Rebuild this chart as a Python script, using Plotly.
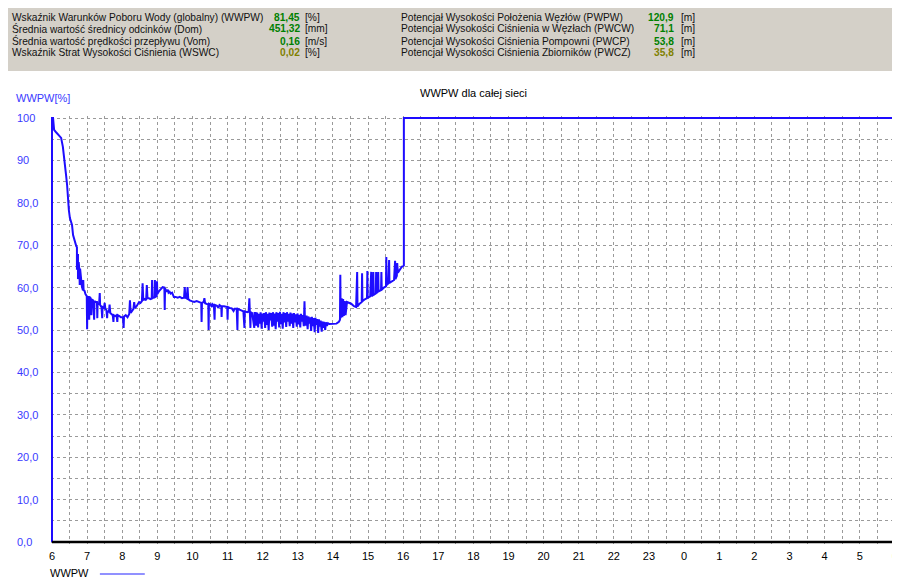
import plotly.graph_objects as go

# ---------------- data ----------------
hours = [
    6.00, 6.00, 6.03, 6.06, 6.11, 6.17, 6.26, 6.31, 6.34, 6.37, 6.40, 6.43, 6.45, 6.48, 6.51,
    6.57, 6.60, 6.65, 6.69, 6.71, 6.71, 6.72, 6.74, 6.74, 6.76, 6.78, 6.79, 6.80, 6.83, 6.85,
    6.88, 6.89, 6.90, 6.93, 6.95, 6.99, 7.00, 7.01, 7.05, 7.06, 7.07, 7.10, 7.12, 7.13, 7.17,
    7.20, 7.21, 7.25, 7.28, 7.29, 7.30, 7.34, 7.36, 7.37, 7.41, 7.43, 7.44, 7.48, 7.50, 7.52,
    7.55, 7.57, 7.58, 7.62, 7.64, 7.66, 7.70, 7.73, 7.75, 7.76, 7.80, 7.84, 7.86, 7.87, 7.92,
    7.96, 8.02, 8.04, 8.05, 8.10, 8.15, 8.20, 8.22, 8.24, 8.28, 8.32, 8.34, 8.36, 8.40, 8.44,
    8.48, 8.52, 8.56, 8.58, 8.60, 8.64, 8.68, 8.70, 8.72, 8.76, 8.80, 8.84, 8.85, 8.86, 8.92,
    8.93, 8.94, 8.98, 8.99, 9.00, 9.05, 9.10, 9.15, 9.20, 9.21, 9.22, 9.27, 9.30, 9.32, 9.35,
    9.38, 9.42, 9.47, 9.52, 9.58, 9.64, 9.70, 9.76, 9.78, 9.80, 9.84, 9.86, 9.88, 9.92, 9.98,
    10.05, 10.12, 10.20, 10.25, 10.26, 10.27, 10.32, 10.34, 10.36, 10.42, 10.45, 10.46, 10.47, 10.52, 10.55,
    10.57, 10.61, 10.63, 10.64, 10.70, 10.74, 10.77, 10.82, 10.83, 10.84, 10.90, 10.99, 11.00, 11.01, 11.06,
    11.12, 11.17, 11.20, 11.26, 11.28, 11.29, 11.34, 11.40, 11.45, 11.48, 11.49, 11.56, 11.60, 11.62, 11.63,
    11.65, 11.66, 11.70, 11.76, 11.77,
    11.80, 11.82, 11.84, 11.87, 11.89, 11.92, 11.94, 11.97, 11.99, 12.02, 12.04, 12.07, 12.09, 12.12, 12.14,
    12.17, 12.19, 12.22, 12.24, 12.27, 12.29, 12.32, 12.34, 12.37, 12.39, 12.42, 12.44, 12.47, 12.49, 12.52,
    12.54, 12.57, 12.59, 12.62, 12.64, 12.67, 12.69, 12.72, 12.74, 12.77, 12.79, 12.82, 12.84, 12.87, 12.89,
    12.92, 12.94, 12.97, 12.99, 13.02, 13.04, 13.07, 13.09, 13.12, 13.14, 13.17, 13.19, 13.20, 13.23, 13.25,
    13.28, 13.30, 13.33, 13.35, 13.38, 13.40, 13.43, 13.45, 13.48, 13.50, 13.53, 13.55, 13.58, 13.60, 13.63,
    13.65, 13.68, 13.70, 13.73, 13.75, 13.78, 13.80, 13.83, 13.86, 13.90, 14.00, 14.10,
    14.17, 14.20, 14.21, 14.22, 14.25, 14.27, 14.29, 14.31, 14.34, 14.36, 14.40, 14.45, 14.52, 14.60, 14.66,
    14.69, 14.70, 14.76, 14.82, 14.83, 14.84, 14.92, 14.97, 14.98, 14.99, 15.06, 15.09, 15.10, 15.14, 15.15,
    15.16, 15.22, 15.23, 15.24, 15.28, 15.29, 15.30, 15.37, 15.38, 15.39, 15.45, 15.51, 15.52, 15.53, 15.58,
    15.60, 15.61, 15.68, 15.74, 15.77, 15.78, 15.82, 15.83, 15.85, 15.90, 15.96, 16.02, 16.02, 30.00,
]
wwpw = [
    0.0, 100.0, 100.0, 97.2, 96.7, 96.2, 95.3, 93.2, 91.3, 89.6, 86.6, 84.2, 80.7, 78.3, 76.4,
    74.8, 72.4, 70.5, 69.8, 69.5, 64.2, 67.7, 67.7, 62.0, 66.0, 64.0, 60.6, 64.5, 61.5, 60.3,
    59.4, 61.8, 59.4, 59.2, 58.5, 58.0, 50.2, 57.8, 57.8, 52.4, 57.8, 57.5, 53.5, 57.2, 57.0,
    52.4, 56.8, 56.6, 56.6, 52.8, 56.4, 56.0, 58.7, 55.9, 55.4, 52.8, 55.4, 55.2, 56.4, 55.0,
    54.7, 52.8, 54.5, 54.2, 56.0, 54.0, 53.8, 53.5, 51.9, 53.5, 53.3, 53.5, 51.9, 53.5, 53.3,
    53.0, 53.0, 50.5, 53.2, 53.5, 53.0, 53.8, 57.0, 54.0, 54.5, 55.0, 56.6, 55.2, 55.5, 56.0,
    56.6, 56.4, 56.8, 61.0, 57.0, 57.3, 57.0, 60.6, 57.5, 57.5, 57.3, 57.5, 61.8, 57.5, 57.8,
    61.8, 57.8, 58.0, 61.5, 58.5, 59.2, 59.8, 60.1, 60.0, 54.7, 59.8, 59.0, 59.5, 58.8, 59.0,
    58.6, 58.8, 57.8, 57.8, 57.6, 57.8, 57.5, 57.6, 60.1, 57.6, 57.4, 60.1, 57.3, 57.0, 56.8,
    56.6, 56.8, 56.6, 56.4, 51.9, 56.4, 56.6, 57.5, 56.3, 56.2, 56.0, 50.0, 56.2, 56.0, 55.4,
    56.1, 55.8, 52.4, 55.9, 55.7, 55.2, 55.9, 55.6, 53.1, 55.6, 55.6, 55.4, 52.4, 55.4, 55.2,
    55.1, 54.5, 55.0, 55.0, 50.0, 55.0, 54.8, 54.5, 54.4, 50.5, 54.4, 54.2, 54.3, 57.5, 54.2,
    50.5, 54.2, 54.0, 50.5, 54.0,
    54.0, 51.0, 54.1, 50.6, 53.8, 51.5, 54.2, 50.3, 53.9, 52.0, 54.0, 50.5, 54.2, 51.2, 53.8,
    50.0, 54.1, 52.3, 54.0, 50.8, 54.2, 51.0, 53.9, 50.2, 54.2, 52.0, 54.0, 50.6, 54.3, 51.4,
    53.8, 50.3, 54.2, 51.8, 54.0, 50.7, 54.2, 52.0, 53.8, 50.9, 54.1, 51.5, 53.9, 50.5, 54.0,
    51.8, 53.7, 50.8, 53.9, 51.3, 53.6, 50.6, 53.8, 52.0, 53.5, 50.9, 56.8, 53.2, 51.0, 53.4,
    50.2, 53.2, 51.5, 53.0, 49.8, 53.1, 50.9, 52.8, 49.5, 52.9, 51.2, 52.6, 49.3, 52.5, 50.8,
    52.2, 49.6, 52.0, 50.5, 51.9, 50.0, 51.8, 51.0, 51.6, 51.4, 51.4, 51.5,
    51.9, 52.4, 63.0, 52.8, 57.5, 53.0, 57.3, 53.3, 56.8, 53.5, 56.6, 56.4, 56.2, 55.6, 55.4,
    63.7, 55.6, 56.2, 56.6, 63.4, 56.8, 57.3, 57.5, 63.9, 57.6, 57.9, 63.7, 58.0, 58.2, 63.7,
    58.3, 58.6, 63.7, 58.7, 59.0, 63.7, 59.1, 59.4, 63.7, 59.5, 60.0, 60.3, 67.2, 60.6, 61.0,
    66.5, 61.1, 61.5, 61.8, 66.3, 62.0, 62.8, 65.8, 63.5, 64.2, 64.9, 65.2, 100.0, 100.0,
]

x_tick_hours = list(range(6, 31))
x_tick_labels = [str(h % 24) for h in x_tick_hours]
y_tick_values = [100, 90, 80, 70, 60, 50, 40, 30, 20, 10, 0]
y_tick_labels = ["100", "90", "80,0", "70,0", "60,0", "50,0", "40,0", "30,0", "20,0", "10,0", "0,0"]

left_labels = [
    "Wskaźnik Warunków Poboru Wody (globalny) (WWPW)",
    "Średnia wartość średnicy odcinków (Dom)",
    "Średnia wartość prędkości przepływu (Vom)",
    "Wskaźnik Strat Wysokości Ciśnienia (WSWC)",
]
left_values = ["81,45", "451,32", "0,16", "0,02"]
left_units = ["[%]", "[mm]", "[m/s]", "[%]"]
right_labels = [
    "Potencjał Wysokości Położenia Węzłów (PWPW)",
    "Potencjał Wysokości Ciśnienia w Węzłach (PWCW)",
    "Potencjał Wysokości Ciśnienia Pompowni (PWCP)",
    "Potencjał Wysokości Ciśnienia Zbiorników (PWCZ)",
]
right_values = ["120,9", "71,1", "53,8", "35,8"]
right_units = ["[m]", "[m]", "[m]", "[m]"]

# ---------------- layout helpers ----------------
OFF = 8                  # page body margin in the browser
WIN_W, WIN_H = 900, 578
W_FIG, H_FIG = WIN_W - OFF, WIN_H - OFF
L, R = 51, 898          # plot area pixel edges (window x)
T, B = 116, 544         # plot area pixel edges (window y)
PXH = 35.2              # pixels per hour
PXV = 4.24              # pixels per percent

x0 = 6 - (52 - L) / PXH
x1 = 30 + (R - (52 + 24 * PXH)) / PXH
y0 = -(B - 542) / PXV
y1 = 100 + (118 - T) / PXV


def px(xp):
    return (xp - L) / (R - L)


def py(yp):
    return (B - yp) / (B - T)


FONT = "Liberation Sans, Arial, sans-serif"
HFS = 10.2
BLUE_LINE = "#1e0cff"
BLUE_TEXT = "#3a3aff"
GREEN = "#008000"
OLIVE = "#808000"

fig = go.Figure()
fig.add_trace(go.Scatter(
    x=hours, y=wwpw, mode="lines",
    line=dict(color=BLUE_LINE, width=2),
    hoverinfo="skip", showlegend=False,
))

half_ticks = [6 + 0.5 * i for i in range(49)]
half_text = [str(int(v) % 24) if float(v).is_integer() else "" for v in half_ticks]

fig.update_layout(
    width=W_FIG, height=H_FIG, autosize=False,
    margin=dict(l=L - OFF, r=WIN_W - R, t=T - OFF, b=WIN_H - B, pad=0),
    paper_bgcolor="white", plot_bgcolor="white",
    showlegend=False,
    font=dict(family=FONT, size=11, color="black"),
    xaxis=dict(
        range=[x0, x1], tickmode="array", tickvals=half_ticks, ticktext=half_text,
        showgrid=True, gridcolor="#9a9a9a", griddash="3px,3px", gridwidth=1,
        zeroline=False, showline=False, ticks="",
        tickfont=dict(family=FONT, size=11, color="black"),
        ticklabelstandoff=4, fixedrange=True,
    ),
    yaxis=dict(
        range=[y0, y1], tickmode="array", tickvals=[5 * i for i in range(21)],
        showticklabels=False, showgrid=True, gridcolor="#9a9a9a", griddash="3px,3px",
        gridwidth=1, zeroline=False, showline=False, ticks="", fixedrange=True,
    ),
)

shapes = []
# header gray panel
shapes.append(dict(type="rect", xref="paper", yref="paper",
                   x0=px(7), x1=px(901), y0=py(71), y1=py(8),
                   fillcolor="#d4d0c8", line=dict(width=0), layer="below"))
# black x-axis line
shapes.append(dict(type="line", xref="x", yref="y", x0=6, x1=30, y0=0, y1=0,
                   line=dict(color="black", width=2.5), layer="above"))
# legend sample line
shapes.append(dict(type="line", xref="paper", yref="paper",
                   x0=px(100), x1=px(145), y0=py(574), y1=py(574),
                   line=dict(color="#6c6cff", width=1.5)))
fig.update_layout(shapes=shapes)

ann = []
row_y = [17, 29, 41, 53]
for i in range(4):
    ann.append(dict(text=left_labels[i], x=px(10), y=py(row_y[i]), xref="paper", yref="paper",
                    xanchor="left", yanchor="middle", showarrow=False,
                    font=dict(size=HFS, color="#111111")))
    ann.append(dict(text="<b>" + left_values[i] + "</b>", x=px(303), y=py(row_y[i]),
                    xref="paper", yref="paper", xanchor="right", yanchor="middle", showarrow=False,
                    font=dict(size=HFS, color=OLIVE if i == 3 else GREEN)))
    ann.append(dict(text=left_units[i], x=px(304), y=py(row_y[i]), xref="paper", yref="paper",
                    xanchor="left", yanchor="middle", showarrow=False,
                    font=dict(size=HFS, color="#111111")))
    ann.append(dict(text=right_labels[i], x=px(400), y=py(row_y[i]), xref="paper", yref="paper",
                    xanchor="left", yanchor="middle", showarrow=False,
                    font=dict(size=HFS, color="#111111")))
    ann.append(dict(text="<b>" + right_values[i] + "</b>", x=px(677), y=py(row_y[i]),
                    xref="paper", yref="paper", xanchor="right", yanchor="middle", showarrow=False,
                    font=dict(size=HFS, color=OLIVE if i == 3 else GREEN)))
    ann.append(dict(text=right_units[i], x=px(680), y=py(row_y[i]), xref="paper", yref="paper",
                    xanchor="left", yanchor="middle", showarrow=False,
                    font=dict(size=HFS, color="#111111")))

# y tick labels (left aligned, blue)
for v, t in zip(y_tick_values, y_tick_labels):
    ann.append(dict(text=t, x=px(15), y=v, xref="paper", yref="y",
                    xanchor="left", yanchor="middle", showarrow=False,
                    font=dict(size=11, color=BLUE_TEXT)))

# axis title, chart title, legend, x title
ann.append(dict(text="WWPW[%]", x=px(14), y=py(98), xref="paper", yref="paper",
                xanchor="left", yanchor="middle", showarrow=False,
                font=dict(size=11, color=BLUE_TEXT)))
ann.append(dict(text="WWPW dla całej sieci", x=px(475), y=py(93), xref="paper", yref="paper",
                xanchor="center", yanchor="middle", showarrow=False,
                font=dict(size=11, color="black")))
ann.append(dict(text="WWPW", x=px(48), y=py(573), xref="paper", yref="paper",
                xanchor="left", yanchor="middle", showarrow=False,
                font=dict(size=11, color="black")))
ann.append(dict(text="czas", x=px(877), y=py(583), xref="paper", yref="paper",
                xanchor="left", yanchor="middle", showarrow=False,
                font=dict(size=11, color="black")))
fig.update_layout(annotations=ann)

fig.write_html("out.html")
